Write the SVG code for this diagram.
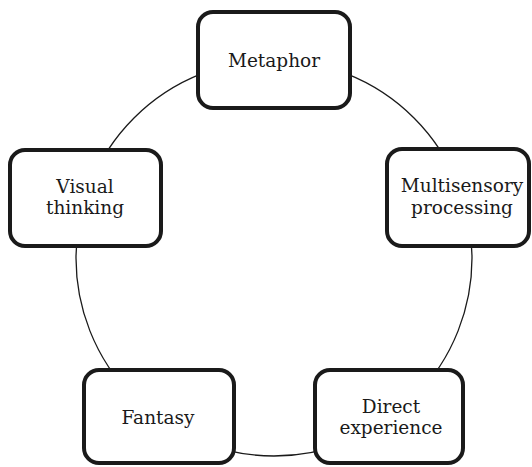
<svg xmlns="http://www.w3.org/2000/svg" width="532" height="467" viewBox="0 0 532 467">
<style>
.box{fill:#fff;stroke:#1a1a1a;stroke-width:4}
.lbl{font-family:'DejaVu Serif','Liberation Serif',serif;font-size:18.5px;fill:#1a1a1a;text-anchor:middle}
.conn{fill:none;stroke:#1a1a1a;stroke-width:1.3}
</style>
<rect width="532" height="467" fill="#fff"/>
<g id="connectors">
<circle class="conn" cx="274" cy="258" r="198"/>
</g>
<g id="metaphor">
<rect class="box" x="198" y="12" width="152" height="96" rx="15"/>
<text class="lbl" x="274" y="67">Metaphor</text>
</g>
<g id="visual-thinking">
<rect class="box" x="10" y="150" width="151" height="96" rx="15"/>
<text class="lbl" x="85" y="193">Visual</text>
<text class="lbl" x="85" y="214">thinking</text>
</g>
<g id="multisensory-processing">
<rect class="box" x="387" y="149" width="142" height="97" rx="15"/>
<text class="lbl" x="462" y="192">Multisensory</text>
<text class="lbl" x="462" y="214">processing</text>
</g>
<g id="fantasy">
<rect class="box" x="84" y="370" width="150" height="93" rx="15"/>
<text class="lbl" x="158" y="424">Fantasy</text>
</g>
<g id="direct-experience">
<rect class="box" x="315" y="370" width="148" height="93" rx="15"/>
<text class="lbl" x="391" y="413">Direct</text>
<text class="lbl" x="391" y="434">experience</text>
</g>
</svg>
